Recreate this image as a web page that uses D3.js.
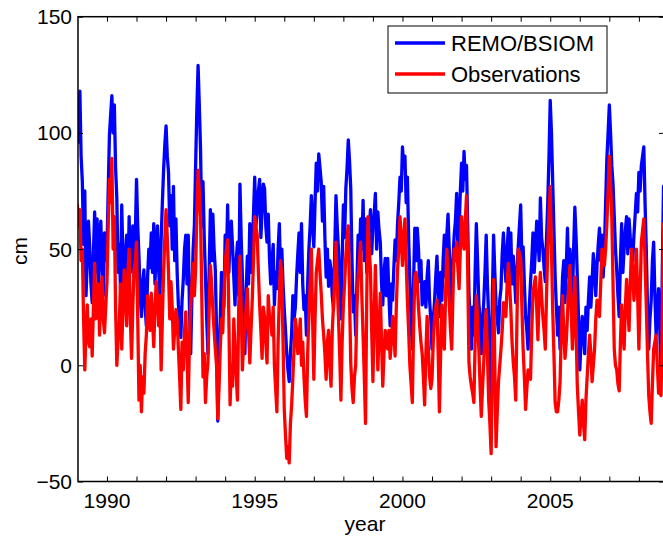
<!DOCTYPE html>
<html>
<head>
<meta charset="utf-8">
<script src="https://cdn.jsdelivr.net/npm/d3@7"></script>
<style>
  body { margin: 0; background: #fff; }
  svg { display: block; font-family: "Liberation Sans", Arial, sans-serif; }
</style>
</head>
<body>
<svg id="chart" width="663" height="541"></svg>
<script>
// half-monthly values from Jan 1989 (cm), one row per year
var startYear = 1989;
var stepsPerYear = 24;
var remo = [
  104,96,118,90,79,52,75,30,45,62,51,35,27,48,66,40,63,30,55,62,43,30,57,45,
  50,75,99,108,116,100,112,85,72,40,52,33,69,45,28,48,56,30,64,40,44,60,38,55,
  80,60,47,30,21,35,41,25,17,38,50,42,57,40,61,35,51,60,41,30,54,70,84,95,
  103,90,83,60,73,50,77,45,63,40,26,20,12,28,37,50,56,35,56,25,5,30,50,60,
  86,110,129,112,93,60,79,55,38,20,5,40,67,45,65,50,41,15,-24,5,19,40,36,25,
  56,45,69,40,56,62,51,38,26,45,53,30,78,55,38,20,5,30,47,35,61,40,51,65,
  81,60,66,75,80,55,67,78,76,60,53,65,46,35,44,52,26,40,33,50,61,38,50,35,
  24,15,5,-2,-7,5,14,30,20,25,38,48,57,40,61,35,24,30,13,35,50,60,73,60,
  51,70,87,75,91,85,79,62,77,55,38,50,34,45,41,30,24,50,73,60,50,35,20,45,
  69,55,76,85,97,88,76,45,23,30,13,35,56,45,63,50,71,45,63,40,50,58,67,48,
  60,65,74,50,66,58,53,35,26,40,46,30,46,30,17,35,28,42,54,45,61,70,81,75,
  94,85,90,70,81,55,36,20,7,35,59,45,59,50,36,45,26,30,36,25,38,45,28,20,
  7,20,27,38,47,32,21,40,28,45,56,38,56,65,50,35,24,45,56,62,74,50,59,75,
  87,75,92,80,86,60,31,20,7,25,13,40,61,45,27,20,5,18,27,40,56,35,21,10,
  -22,30,56,40,26,20,14,28,33,48,57,45,36,50,59,40,57,35,47,38,27,40,51,60,
  69,45,51,35,21,15,7,25,36,45,57,40,50,62,56,45,72,55,50,42,36,55,70,90,
  114,100,79,58,38,25,13,25,7,22,38,45,27,42,59,38,50,40,27,50,68,55,38,20,
  -2,10,21,15,5,25,15,28,38,25,36,48,41,30,43,52,59,45,56,38,50,70,89,100,
  112,100,86,78,64,50,41,30,21,45,61,40,50,58,64,48,63,55,50,45,56,65,74,66,
  83,75,86,90,94,70,50,25,7,20,28,45,53,30,13,25,33,15,-5,40,77
];
var obs = [
  69,60,67,45,50,20,-2,15,26,10,8,20,4,25,44,20,26,35,13,30,38,20,14,25,
  36,60,80,70,89,50,64,25,0,10,18,35,7,25,41,30,17,40,50,20,3,25,41,45,
  53,20,-15,0,-20,-5,-12,5,13,30,21,15,31,20,8,25,36,28,17,30,-2,20,40,55,
  67,55,40,20,36,25,7,15,24,20,7,-5,-19,10,-2,15,23,5,-16,10,26,35,44,30,
  41,65,84,75,64,30,-5,5,-16,-5,1,25,43,35,24,15,7,0,-23,-10,7,20,14,30,
  44,50,54,20,-17,0,-9,20,7,-5,-15,25,47,25,-2,10,14,25,33,15,1,15,28,45,
  64,60,56,40,26,15,3,25,21,10,1,30,21,20,13,25,0,-10,-20,10,30,45,38,10,
  -19,-30,-40,-35,-42,-25,-17,-5,8,20,15,5,11,20,0,10,-5,-15,-22,5,21,35,50,20,
  -6,20,40,45,50,40,31,20,13,5,-6,10,15,0,-9,15,26,40,53,35,21,5,-15,10,
  26,35,47,55,60,30,1,-10,-16,-5,0,25,38,45,53,30,13,-5,-25,30,64,50,41,15,
  -7,20,43,20,-2,15,31,10,-9,5,15,10,7,15,3,10,21,15,4,25,41,50,64,55,
  43,55,63,45,28,15,0,-8,-16,15,38,40,36,25,17,10,5,-5,-17,5,21,8,-5,-10,
  -6,10,20,25,28,5,-20,5,26,15,7,30,50,40,27,15,7,30,50,45,53,42,33,50,
  64,55,50,62,73,40,1,-5,-9,-12,-16,10,30,20,7,-8,-22,-10,1,15,24,5,-15,-25,
  -38,0,37,0,-35,-20,-7,0,7,15,27,25,21,35,44,35,24,10,1,-5,-15,20,50,48,
  46,25,7,-5,-19,-10,-2,-5,-6,15,31,35,38,25,11,30,40,30,21,15,7,30,50,65,
  77,50,24,5,-16,-20,-20,-15,-7,15,30,15,3,10,21,35,43,25,7,20,38,15,-9,-20,
  -30,-22,-15,-25,-32,-15,-5,5,13,5,-7,0,7,20,28,25,21,35,50,45,43,50,61,75,
  90,78,64,35,7,0,-2,-8,-11,10,26,15,7,25,37,25,15,35,50,40,28,38,50,30,
  7,30,53,58,63,45,26,5,-13,-20,-25,-8,7,10,13,0,-12,-12,-13,20,61
];
var yTicks = [-50, 0, 50, 100, 150];
var xLabelTicks = [1990, 1995, 2000, 2005];
var xMinorTicks = d3.range(1990, 2009);
var seriesNames = ["REMO/BSIOM", "Observations"];
var seriesColors = ["#0000ff", "#ff0000"];

var axL = 78, axR = 664, axT = 16.7, axB = 481.5;

var svg = d3.select("#chart");

var x = d3.scaleLinear().domain([1989.02, 2008.85]).range([axL, axR]);
var y = d3.scaleLinear().domain([-50, 150]).range([axB, axT]);

svg.append("defs").append("clipPath").attr("id", "clip")
  .append("rect")
  .attr("x", axL).attr("y", axT)
  .attr("width", axR - axL).attr("height", axB - axT);

function toPoints(vals) {
  return vals.map(function (v, i) { return [startYear + i / stepsPerYear, v]; });
}

var line = d3.line()
  .x(function (d) { return x(d[0]); })
  .y(function (d) { return y(d[1]); });

var plot = svg.append("g").attr("clip-path", "url(#clip)");

[remo, obs].forEach(function (vals, i) {
  plot.append("path")
    .attr("fill", "none")
    .attr("stroke", seriesColors[i])
    .attr("stroke-width", 3.3)
    .attr("stroke-linejoin", "round")
    .attr("stroke-linecap", "round")
    .attr("d", line(toPoints(vals)));
});

// axes, MATLAB style: inward ticks on all sides
var fs = 21;

svg.append("g")
  .attr("transform", "translate(0," + axB + ")")
  .call(d3.axisBottom(x).tickValues(xMinorTicks).tickSizeInner(-5).tickSizeOuter(0).tickFormat(""))
  .call(function (g) { g.select(".domain").remove(); });

svg.append("g")
  .attr("transform", "translate(0," + axT + ")")
  .call(d3.axisTop(x).tickValues(xMinorTicks).tickSizeInner(-5).tickSizeOuter(0).tickFormat(""))
  .call(function (g) { g.select(".domain").remove(); });

svg.append("g")
  .attr("transform", "translate(" + axL + ",0)")
  .call(d3.axisLeft(y).tickValues(yTicks).tickSizeInner(-5).tickSizeOuter(0).tickFormat(""))
  .call(function (g) { g.select(".domain").remove(); });

svg.append("g")
  .attr("transform", "translate(" + axR + ",0)")
  .call(d3.axisRight(y).tickValues(yTicks).tickSizeInner(-5).tickSizeOuter(0).tickFormat(""))
  .call(function (g) { g.select(".domain").remove(); });

svg.selectAll(".tick line").attr("stroke", "#000").attr("stroke-width", 1);

// frame
svg.append("rect")
  .attr("x", axL).attr("y", axT)
  .attr("width", axR - axL).attr("height", axB - axT)
  .attr("fill", "none").attr("stroke", "#000").attr("stroke-width", 1.5);

// tick labels
svg.selectAll(".ylab").data(yTicks).enter().append("text")
  .attr("x", axL - 6)
  .attr("y", function (d) { return y(d) + 7.5; })
  .attr("text-anchor", "end")
  .attr("font-size", fs)
  .text(function (d) { return d < 0 ? "\u2212" + Math.abs(d) : d; });

svg.selectAll(".xlab").data(xLabelTicks).enter().append("text")
  .attr("x", function (d) { return x(d); })
  .attr("y", axB + 26)
  .attr("text-anchor", "middle")
  .attr("font-size", fs)
  .text(function (d) { return d; });

svg.append("text")
  .attr("x", (axL + axR) / 2 - 6)
  .attr("y", 531)
  .attr("text-anchor", "middle")
  .attr("font-size", fs)
  .text("year");

svg.append("text")
  .attr("transform", "translate(27,251) rotate(-90)")
  .attr("text-anchor", "middle")
  .attr("font-size", fs)
  .text("cm");

// legend
var lg = svg.append("g").attr("transform", "translate(388,26)");
lg.append("rect")
  .attr("width", 219).attr("height", 67)
  .attr("fill", "#fff").attr("stroke", "#000").attr("stroke-width", 1);

seriesNames.forEach(function (name, i) {
  var yy = 17 + i * 31;
  lg.append("line")
    .attr("x1", 7).attr("x2", 57)
    .attr("y1", yy).attr("y2", yy)
    .attr("stroke", seriesColors[i]).attr("stroke-width", 3.3);
  lg.append("text")
    .attr("x", 63).attr("y", yy + 8)
    .attr("font-size", 22)
    .text(name);
});
</script>
</body>
</html>
